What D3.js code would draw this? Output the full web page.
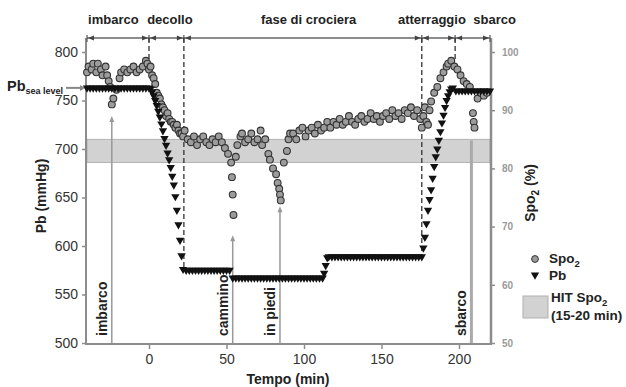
<!DOCTYPE html>
<html>
<head>
<meta charset="utf-8">
<script src="https://cdn.jsdelivr.net/npm/d3@7"></script>
<style>
  body { margin: 0; background: #fff; }
  text { font-family: "Liberation Sans", Arial, Helvetica, sans-serif; }
</style>
</head>
<body>
<svg id="chart" width="626" height="387"></svg>
<script>
// flight phases along the top bar
var phaseNames = ['imbarco', 'decollo', 'fase di crociera', 'atterraggio', 'sbarco'];
var phaseBounds = [-40, 0, 22.5, 176, 197.5, 220];
var phaseLabelT = [-23, 13.5, 103, 182.5, 223];

// dashed boundaries and the Pb value where each one stops
var dashT = [0, 22.5, 176, 197.5];
var dashEndPb = [788, 575, 589, 790];

// events marked with a vertical arrow (arrow tip in SpO2 %)
var eventNames = ['imbarco', 'cammino', 'in piedi', 'sbarco'];
var eventT = [-24, 54, 84.5, 208];
var eventTipSpo = [89, 68.5, 73.5, 85.5];

var pbSeaLevel = 763;
var hitBand = [81, 85];

var timeTicks = [0, 50, 100, 150, 200];
var pbTicks = [500, 550, 600, 650, 700, 750, 800];
var spoTicks = [50, 60, 70, 80, 90, 100];

// barometric pressure, mmHg
var pbTime = [-40, -38, -36, -34, -32, -30, -28, -26, -24, -22, -20, -18, -16, -14, -12, -10, -8, -6, -4, -2, 0,
  1, 2, 3, 4, 5, 6, 7, 8, 9, 10, 11, 12, 13, 14, 15, 16, 17, 18, 19, 20, 21, 22,
  24, 26, 28, 30, 32, 34, 36, 38, 40, 42, 44, 46, 48, 50, 52,
  54, 56, 58, 60, 62, 64, 66, 68, 70, 72, 74, 76, 78, 80, 82, 84, 86, 88, 90, 92, 94, 96, 98, 100, 102, 104, 106, 108, 110, 112,
  113, 114, 115,
  116, 118, 120, 122, 124, 126, 128, 130, 132, 134, 136, 138, 140, 142, 144, 146, 148, 150, 152, 154, 156, 158, 160, 162, 164, 166, 168, 170, 172, 174, 176,
  177, 178, 179, 180, 181, 182, 183, 184, 185, 186, 187, 188, 189, 190, 191, 192, 193, 194, 195, 196,
  198, 200, 202, 204, 206, 208, 210, 212, 214, 216, 218, 220];
var pbValue = [763, 763, 763, 763, 763, 763, 763, 763, 763, 763, 763, 763, 763, 763, 763, 763, 763, 763, 763, 763, 763,
  762, 759, 755, 750, 745, 739, 733, 726, 719, 711, 704, 696, 689, 681, 672, 663, 651, 637, 622, 606, 590, 576,
  575, 575, 575, 575, 575, 575, 575, 575, 575, 575, 575, 575, 575, 575, 575,
  567, 567, 567, 567, 567, 567, 567, 567, 567, 567, 567, 567, 567, 567, 567, 567, 567, 567, 567, 567, 567, 567, 567, 567, 567, 567, 567, 567, 567, 567,
  572, 580, 588,
  589, 589, 589, 589, 589, 589, 589, 589, 589, 589, 589, 589, 589, 589, 589, 589, 589, 589, 589, 589, 589, 589, 589, 589, 589, 589, 589, 589, 589, 589, 589,
  598, 609, 623, 637, 648, 658, 670, 682, 692, 700, 709, 718, 727, 735, 743, 750, 755, 759, 762, 763,
  760, 760, 760, 760, 760, 760, 760, 760, 760, 760, 760, 760];

// oxygen saturation, %
var spoTime = [-40, -39, -37, -36, -34, -33, -31, -30, -28, -27, -26, -25, -24, -23, -21, -19, -18, -16, -14, -12, -10, -8, -6, -4, -2, -1, 0,
  1, 2, 3, 4, 5, 6, 7, 8, 9, 10, 11, 12, 13, 14, 15, 16, 17, 18, 19, 20, 21, 22, 23,
  25, 27, 29, 31, 33, 35, 37, 39, 41, 43, 45, 47, 49, 51,
  53, 53.5, 54, 54.5,
  56, 57, 59, 60, 62, 64, 66, 68, 70, 72, 73, 75,
  77, 78, 80, 82, 83, 84, 84.5, 85, 87, 89, 90, 91,
  93, 95, 97, 99, 101, 103, 105, 107, 109, 111, 113, 115, 117, 119, 121, 123, 125, 127, 129, 131, 133, 135, 137, 139, 141, 143, 145, 147, 149,
  151, 153, 155, 157, 159, 161, 163, 165, 167, 169, 171, 173, 175, 176, 177, 178, 179, 180, 181,
  182, 184, 186, 188, 190, 192, 193, 195, 197, 199, 201, 203, 205, 207, 209, 209.5, 210, 212, 214, 216, 218];
var spoValue = [96.5, 97.5, 97, 98, 96.5, 98, 97, 96, 97.5, 96, 95, 94, 91, 92, 93.5, 95.5, 96.5, 97, 96.5, 97, 97.5, 96.5, 97, 97.5, 98.5, 98, 97,
  97.5, 96, 95.5, 94.5, 93, 92.5, 92, 91, 90.5, 90, 89, 89.5, 88.5, 88, 88, 87.5, 87, 87.5, 86.5, 86, 86, 85.5, 86.5,
  85, 84.5, 85.5, 84, 85, 85.5, 84.5, 84, 85, 84.5, 85.5, 84.5, 83.5, 82.5,
  81, 78.5, 75.5, 72,
  82, 84, 85.5, 86, 84.5, 85, 86, 84.5, 85, 86.5, 84, 85,
  82.5, 81.5, 80, 79, 77.5, 76.5, 75.5, 74.5, 81, 83, 85, 86,
  86, 85, 86.5, 87, 85.5, 86.5, 87, 86, 87.5, 86.5, 87, 88, 87, 88, 87.5, 88.5, 87.5, 88, 89, 88, 87.5, 88.5, 89, 88, 88.5, 89.5, 88.5, 89, 88,
  89, 89.5, 88.5, 90, 89, 89.5, 88.5, 90, 89.5, 90.5, 89, 90, 88.5, 87, 89, 90.5, 88, 87.5, 90,
  91.5, 93, 94, 95.5, 96.5, 97.5, 98, 98.5, 97.5, 97, 96, 95, 94.5, 94, 89.5, 88, 87, 92, 93, 92.5, 93];

var svg = d3.select('#chart');

var x = d3.scaleLinear().domain([-40, 220]).range([87, 490]);
var yL = d3.scaleLinear().domain([500, 800]).range([343, 52]);
var yR = d3.scaleLinear().domain([50, 100]).range([343, 52]);

var barY = 38, baseY = 343;
var ink = '#222', axisGrey = '#8d8d8d';

// HIT SpO2 band
svg.append('rect')
  .attr('x', x(-40)).attr('width', x(220) - x(-40))
  .attr('y', yR(hitBand[1])).attr('height', yR(hitBand[0]) - yR(hitBand[1]))
  .attr('fill', '#d2d2d2').attr('stroke', '#a8a8a8').attr('stroke-width', 0.8);

// axes frame
svg.append('line').attr('x1', x(-40) - 1).attr('x2', x(-40) - 1).attr('y1', barY).attr('y2', baseY + 1)
  .attr('stroke', axisGrey).attr('stroke-width', 2);
svg.append('line').attr('x1', x(220) + 1).attr('x2', x(220) + 1).attr('y1', barY).attr('y2', baseY + 1)
  .attr('stroke', axisGrey).attr('stroke-width', 2.5);
svg.append('line').attr('x1', x(-40) - 2).attr('x2', x(220) + 2).attr('y1', baseY + 1).attr('y2', baseY + 1)
  .attr('stroke', axisGrey).attr('stroke-width', 2);

var gL = svg.append('g').attr('transform', 'translate(' + (x(-40) - 2) + ',0)')
  .call(d3.axisLeft(yL).tickValues(pbTicks).tickSize(3).tickPadding(4));
var gB = svg.append('g').attr('transform', 'translate(0,' + (baseY + 2) + ')')
  .call(d3.axisBottom(x).tickValues(timeTicks).tickSize(4).tickPadding(5));
var gR = svg.append('g').attr('transform', 'translate(' + (x(220) + 2) + ',0)')
  .call(d3.axisRight(yR).tickValues(spoTicks).tickSize(3).tickPadding(7));

[gL, gB, gR].forEach(function (g) {
  g.select('.domain').remove();
  g.selectAll('.tick line').attr('stroke', axisGrey).attr('stroke-width', 1.5);
});
gL.selectAll('text').attr('font-size', 14).attr('fill', '#333');
gB.selectAll('text').attr('font-size', 14).attr('fill', '#333');
gR.selectAll('text').attr('font-size', 10).attr('font-weight', 'bold').attr('fill', '#9a9a9a');

// axis titles
svg.append('text').attr('transform', 'translate(46,' + 196 + ') rotate(-90)')
  .attr('text-anchor', 'middle').attr('font-size', 14).attr('font-weight', 'bold').attr('fill', ink)
  .text('Pb (mmHg)');
var rt = svg.append('text').attr('transform', 'translate(535,' + 193 + ') rotate(-90)')
  .attr('text-anchor', 'middle').attr('font-size', 14).attr('font-weight', 'bold').attr('fill', ink);
rt.append('tspan').text('Spo');
rt.append('tspan').attr('font-size', 10).attr('dy', 4).text('2');
rt.append('tspan').attr('dy', -4).text(' (%)');
svg.append('text').attr('x', 288).attr('y', 384).attr('text-anchor', 'middle')
  .attr('font-size', 14).attr('font-weight', 'bold').attr('fill', ink).text('Tempo (min)');

// Pb sea level marker
var sl = svg.append('text').attr('x', 7).attr('y', 91).attr('font-weight', 'bold').attr('fill', ink);
sl.append('tspan').attr('font-size', 14.5).text('Pb');
sl.append('tspan').attr('font-size', 9).attr('dy', 3).text('sea level');
svg.append('line').attr('x1', 66).attr('x2', 80).attr('y1', yL(pbSeaLevel)).attr('y2', yL(pbSeaLevel))
  .attr('stroke', '#888').attr('stroke-width', 2);
svg.append('path').attr('d', 'M80,' + (yL(pbSeaLevel) - 3) + 'L85,' + yL(pbSeaLevel) + 'L80,' + (yL(pbSeaLevel) + 3) + 'Z')
  .attr('fill', '#888');

// phase bar with arrows
svg.append('line').attr('x1', x(-40)).attr('x2', x(220)).attr('y1', barY).attr('y2', barY)
  .attr('stroke', '#666').attr('stroke-width', 1.5);
phaseBounds.forEach(function (t) {
  svg.append('line').attr('x1', x(t)).attr('x2', x(t)).attr('y1', barY - 3).attr('y2', barY + 4)
    .attr('stroke', '#555').attr('stroke-width', 1.2);
});
phaseNames.forEach(function (name, i) {
  var a = x(phaseBounds[i]) + 1, b = x(phaseBounds[i + 1]) - 1;
  svg.append('path').attr('d', 'M' + a + ',' + barY + 'l6,-2.5v5Z').attr('fill', '#444');
  svg.append('path').attr('d', 'M' + b + ',' + barY + 'l-6,-2.5v5Z').attr('fill', '#444');
  svg.append('text').attr('x', x(phaseLabelT[i])).attr('y', 24).attr('text-anchor', 'middle')
    .attr('font-size', 13).attr('font-weight', 'bold').attr('fill', ink).text(name);
});

// dashed phase boundaries
dashT.forEach(function (t, i) {
  svg.append('line').attr('x1', x(t)).attr('x2', x(t)).attr('y1', barY).attr('y2', yL(dashEndPb[i]))
    .attr('stroke', '#333').attr('stroke-width', 1.3).attr('stroke-dasharray', '5,3');
});

// event arrows and labels
eventNames.forEach(function (name, i) {
  var ex = x(eventT[i]), tip = yR(eventTipSpo[i]);
  var last = i === eventNames.length - 1;
  svg.append('line').attr('x1', ex).attr('x2', ex).attr('y1', baseY).attr('y2', tip + 4)
    .attr('stroke', last ? '#aaa' : '#999').attr('stroke-width', last ? 3 : 1.5);
  if (!last) {
    svg.append('path').attr('d', 'M' + ex + ',' + tip + 'l-2.5,6h5Z').attr('fill', '#999');
  }
  svg.append('text').attr('transform', 'translate(' + (ex - 5) + ',' + 336 + ') rotate(-90)')
    .attr('font-size', 14).attr('font-weight', 'bold').attr('fill', ink).text(name);
});

// SpO2 circles
svg.append('g').selectAll('circle')
  .data(d3.zip(spoTime, spoValue))
  .enter()
  .append('circle')
  .attr('cx', function (d) { return x(d[0]); })
  .attr('cy', function (d) { return yR(d[1]); })
  .attr('r', 3.4)
  .attr('fill', '#9c9c9c')
  .attr('stroke', '#333')
  .attr('stroke-width', 1.1);

// Pb triangles
var tri = d3.symbol().type(d3.symbolTriangle).size(30);
svg.append('g').selectAll('path')
  .data(d3.zip(pbTime, pbValue))
  .enter()
  .append('path')
  .attr('d', tri)
  .attr('transform', function (d) { return 'translate(' + x(d[0]) + ',' + yL(d[1]) + ') rotate(180)'; })
  .attr('fill', '#111');

// legend
svg.append('circle').attr('cx', 535).attr('cy', 259).attr('r', 3.4)
  .attr('fill', '#9c9c9c').attr('stroke', '#333');
var l1 = svg.append('text').attr('x', 549).attr('y', 263).attr('font-size', 13.5).attr('font-weight', 'bold').attr('fill', ink);
l1.append('tspan').text('Spo');
l1.append('tspan').attr('font-size', 9.5).attr('dy', 4).text('2');
svg.append('path').attr('d', tri).attr('transform', 'translate(535,275) rotate(180)').attr('fill', '#111');
svg.append('text').attr('x', 549).attr('y', 280).attr('font-size', 13.5).attr('font-weight', 'bold').attr('fill', ink).text('Pb');
svg.append('rect').attr('x', 523).attr('y', 296).attr('width', 25).attr('height', 22)
  .attr('fill', '#d2d2d2').attr('stroke', '#b0b0b0');
var l3 = svg.append('text').attr('x', 551).attr('y', 302).attr('font-size', 13.5).attr('font-weight', 'bold').attr('fill', ink);
l3.append('tspan').text('HIT Spo');
l3.append('tspan').attr('font-size', 9.5).attr('dy', 4).text('2');
svg.append('text').attr('x', 551).attr('y', 320).attr('font-size', 13.5).attr('font-weight', 'bold').attr('fill', ink).text('(15-20 min)');
</script>
</body>
</html>
